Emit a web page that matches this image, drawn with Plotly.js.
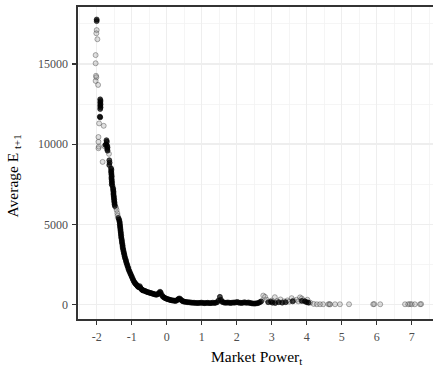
<!DOCTYPE html>
<html>
<head>
<meta charset="utf-8">
<script src="https://cdn.plot.ly/plotly-3.0.1.min.js"></script>
<style>html,body{margin:0;padding:0;background:#fff;}#chart{width:433px;height:366px;}</style>
</head>
<body>
<div id="chart"></div>
<script>
// Dense part of the scatter (many overlapping observations)
const denseX = [-2.00,-2.00,
 -1.90,-1.89,-1.90,-1.89,-1.90,-1.89,-1.90,-1.91,-1.90,
 -1.72,-1.71,-1.73,-1.75,-1.70,-1.69,-1.70,-1.69,
 -1.64,-1.63,-1.64,
 -1.59,-1.58,-1.59,-1.58,-1.58,-1.57,-1.58,-1.57,-1.57,-1.56,-1.57,-1.55,
 -1.53,-1.53,-1.52,-1.52,-1.52,-1.51,-1.51,-1.50,-1.50,-1.49,-1.49,-1.48,
 -1.38,-1.36,-1.35,-1.34,-1.34,-1.33,-1.33,-1.32,-1.32,-1.31,-1.31,-1.30,-1.30,-1.29,-1.28,-1.28,-1.27,-1.26,-1.26,-1.25,-1.24,-1.23,-1.22,-1.21,-1.20,-1.19,-1.17,-1.16,-1.15,-1.13,-1.12,-1.10,-1.09,-1.07,-1.05,-1.03,-1.01,-0.99,-0.97,-0.95,-0.93,-0.91,-0.89,-0.87,-0.85,-0.83,-0.81,-0.79,-0.77,-0.75,-0.73,-0.71,-0.69,-0.67,-0.64,-0.61,-0.58,-0.55,-0.52,-0.49,-0.46,-0.43,-0.40,-0.37,-0.34,-0.31,-0.28,-0.25,-0.22,-0.19,-0.17,-0.14,-0.11,-0.08,-0.05,-0.02,0.01,0.04,0.07,0.10,0.13,0.16,0.19,0.22,0.25,0.28,0.31,0.34,0.37,0.40,0.43,0.46,0.49,0.52,0.56,0.60,0.64,0.68,0.72,0.76,0.80,0.84,0.88,0.92,0.96,1.00,1.04,1.08,1.12,1.16,1.20,1.24,1.28,1.32,1.36,1.40,1.44,1.48,1.52,1.55,1.58,1.62,1.66,1.70,1.74,1.78,1.82,1.86,1.90,1.94,1.98,2.02,2.06,2.10,2.14,2.18,2.22,2.26,2.30,2.34,2.38,2.42,2.46,2.50,2.54,2.58,2.62,2.66,2.70,
 2.90,2.98,3.02,3.10,3.20,3.30,3.40,3.60,3.86,3.95,4.00,4.05];
const denseY = [17780,17680,
 12800,12700,12600,12500,12400,12300,12200,11720,11680,
 10250,10150,10000,9950,9900,9800,9700,9600,
 9000,8850,8700,
 8500,8400,8300,8200,8100,8000,7900,7800,7700,7600,7500,7400,
 7250,7150,7050,6950,6850,6750,6650,6550,6450,6350,6250,6150,
 5400,5300,5200,5100,5000,4900,4800,4700,4600,4500,4400,4300,4200,4100,4000,3900,3800,3700,3600,3500,3400,3300,3200,3100,3000,2900,2800,2700,2600,2500,2400,2300,2200,2100,2000,1900,1800,1700,1600,1500,1420,1350,1300,1250,1200,1150,1100,1080,1150,1050,980,940,900,880,860,840,800,780,760,740,720,700,680,660,640,620,620,660,720,800,740,600,500,450,410,380,350,330,310,290,270,260,250,240,230,250,300,360,380,320,250,210,190,170,160,150,140,130,120,110,110,100,100,100,110,120,100,90,100,110,100,90,100,120,100,110,150,250,480,300,180,140,120,110,130,120,100,110,130,120,140,160,120,110,100,120,140,120,110,130,100,80,70,60,70,80,100,150,200,
 150,180,120,100,150,120,150,200,230,200,150,120];

// Isolated observations
const sparseX = [-2.00,-2.01,-1.98,-2.03,-2.03,-2.02,-2.01,-2.03,-1.96,-1.93,-1.80,-1.95,-1.95,-1.94,-1.95,-1.83,-1.78,-1.65,-1.45,-1.43,-1.41,-1.40,
 2.76,2.81,2.86,3.00,3.09,3.15,3.25,3.35,3.45,3.50,3.57,3.62,3.71,3.76,3.81,3.86,3.90,4.02,4.10,4.20,4.29,4.38,4.47,4.62,4.65,4.67,4.81,4.95,5.21,5.90,5.93,6.10,6.81,6.90,6.95,7.00,7.09,7.24,7.27];
const sparseY = [17120,16920,16550,15560,15050,14270,14180,13950,13700,11300,11150,10450,10150,9850,9750,8900,9880,9400,6050,5900,5700,5550,
 560,480,300,250,460,220,320,200,260,180,400,250,300,200,450,380,260,300,120,40,20,20,20,20,30,10,20,20,20,20,30,20,20,20,30,20,20,20,30];

const xTickVals = [-2,-1,0,1,2,3,4,5,6,7];
const xTickLabels = ["-2","-1","0","1","2","3","4","5","6","7"];
const yTickVals = [0,5000,10000,15000];
const yTickLabels = ["0","5000","10000","15000"];

const serif = "Liberation Serif";

const traces = [
  {x: sparseX, y: sparseY, type: 'scatter', mode: 'markers', hoverinfo: 'skip',
   marker: {size: 5, color: 'rgba(130,130,130,0.25)', line: {color: 'rgba(70,70,70,0.45)', width: 1}}},
  {x: denseX, y: denseY, type: 'scatter', mode: 'markers', hoverinfo: 'skip',
   marker: {size: 5, color: 'rgba(0,0,0,0.7)', line: {color: 'rgba(0,0,0,0.75)', width: 0.8}}}
];

function axisCommon() {
  return {
    showline: true, linecolor: '#333333', linewidth: 1.6,
    ticks: 'outside', ticklen: 4, tickwidth: 1.4, tickcolor: '#333333',
    showgrid: true, gridcolor: '#eeeeee', gridwidth: 1.5,
    zeroline: false, tickmode: 'array',
    tickfont: {family: serif, size: 12, color: '#4d4d4d'},
    ticklabelstandoff: 2
  };
}

const layout = {
  width: 433, height: 366,
  margin: {l: 78, r: 0, t: 7, b: 47},
  paper_bgcolor: '#ffffff', plot_bgcolor: '#ffffff',
  showlegend: false,
  font: {family: serif},
  xaxis: Object.assign(axisCommon(), {
    range: [-2.534, 7.609], tickvals: xTickVals, ticktext: xTickLabels, mirror: true,
    minor: {tickvals: [-2.5,-1.5,-0.5,0.5,1.5,2.5,3.5,4.5,5.5,6.5,7.5], showgrid: true, gridcolor: '#f3f3f3', gridwidth: 0.8, ticks: ''}
  }),
  yaxis: Object.assign(axisCommon(), {
    range: [-900, 18560], tickvals: yTickVals, ticktext: yTickLabels,
    minor: {tickvals: [2500,7500,12500,17500], showgrid: true, gridcolor: '#f3f3f3', gridwidth: 0.8, ticks: ''}
  }),
  annotations: [
    {text: 'Market Power<sub>t</sub>', xref: 'paper', yref: 'paper', x: 0.504, y: -0.122,
     xanchor: 'center', yanchor: 'middle', showarrow: false,
     font: {family: serif, size: 15.5, color: '#000000'}},
    {text: 'Average E <sub>t+1</sub>', xref: 'paper', yref: 'paper', x: -0.183, y: 0.457,
     xanchor: 'center', yanchor: 'middle', showarrow: false, textangle: -90,
     font: {family: serif, size: 15.5, color: '#000000'}}
  ]
};

Plotly.newPlot('chart', traces, layout, {staticPlot: true, displayModeBar: false});
</script>
</body>
</html>
